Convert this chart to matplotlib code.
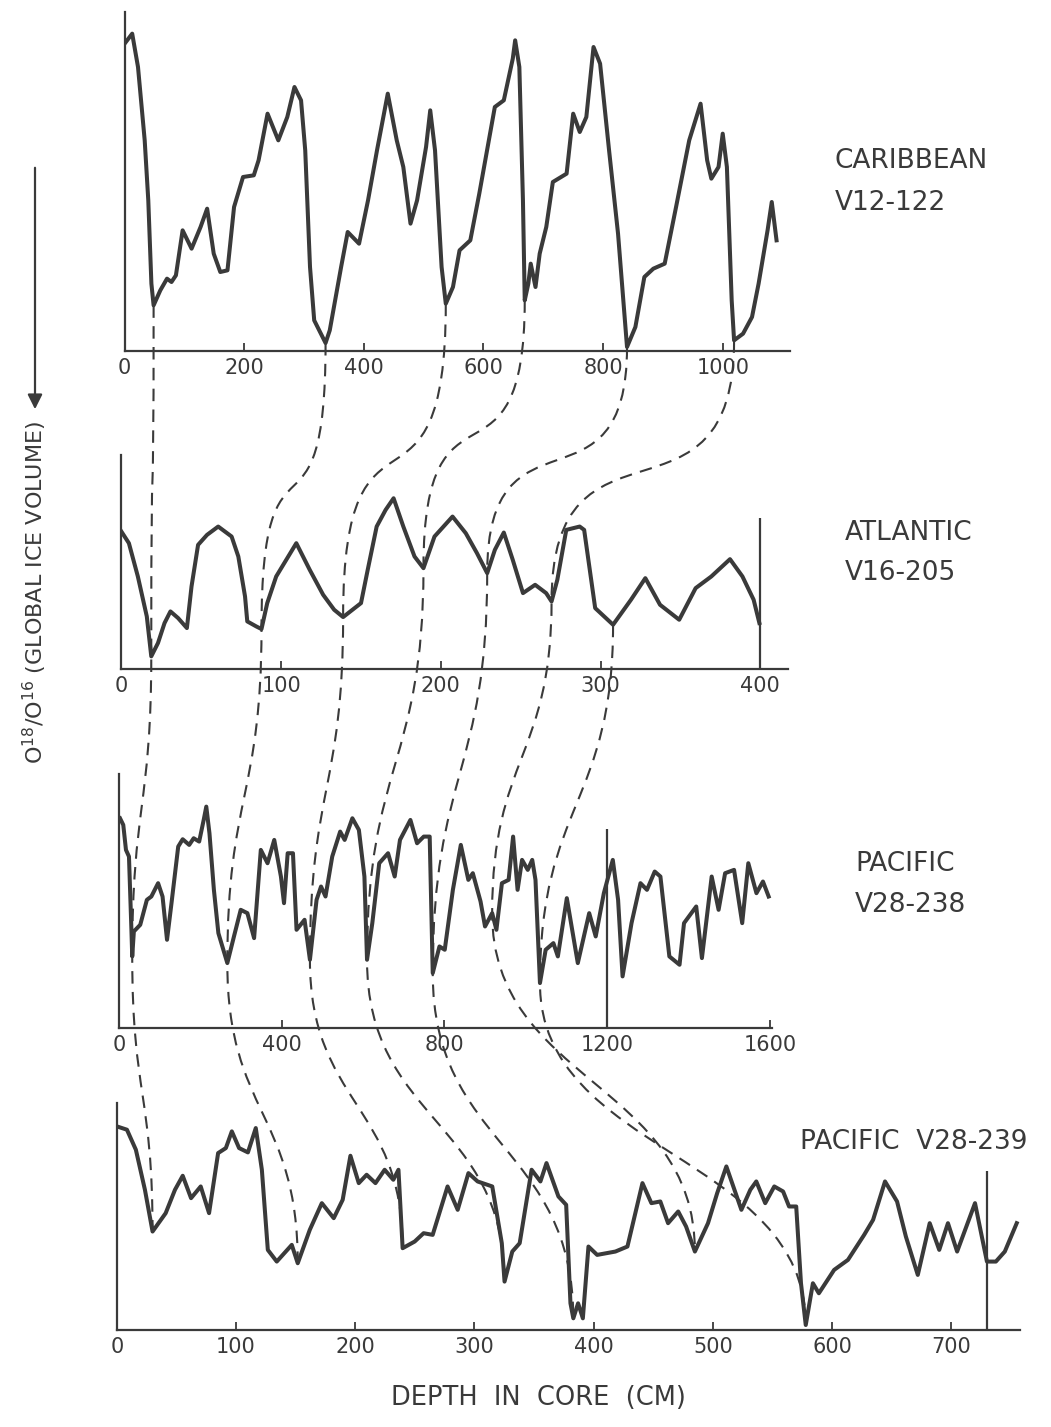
import numpy as np
import matplotlib
matplotlib.use("Agg")
import matplotlib.pyplot as plt
from matplotlib.path import Path
from matplotlib.patches import PathPatch, FancyArrowPatch

plt.rcParams['font.family'] = ['DejaVu Sans']

# ---- core records: depth (cm) and relative O18/O16 value ----
car_depth = [0, 12.7, 22.4, 33.6, 39.6, 44.8, 48.5, 59.7, 70.9, 78.4, 85.8, 97, 112, 127, 138, 149,
             160, 172, 183, 198, 216, 224, 239, 257, 272, 284, 295, 302, 310, 317, 336, 343, 362,
             373, 392, 407, 422, 440, 455, 466, 478, 489, 504, 511, 519, 530, 537, 549, 560, 578,
             593, 608, 619, 634, 649, 653, 660, 666, 669, 675, 679, 687, 694, 705, 716, 739, 750,
             761, 772, 784, 795, 810, 825, 840, 854, 869, 884, 903, 922, 944, 963, 974, 981, 993,
             1000, 1007, 1015, 1019, 1034, 1049, 1060, 1075, 1082, 1090]
car_val = [92.2, 95.2, 85.2, 63.2, 45.2, 20.2, 13.7, 18.2, 21.7, 20.7, 22.7, 36.2, 30.7, 37.2, 42.7,
           29.2, 23.7, 24.2, 43.2, 52.2, 52.7, 57.2, 71.2, 63.2, 70.2, 79.2, 75.2, 60.2, 25.2, 9.2,
           2.4, 6.2, 25.2, 35.7, 32.2, 45.2, 60.2, 77.2, 63.2, 55.2, 38.2, 45.2, 61.2, 72.2, 60.2,
           25.2, 14.2, 19.2, 30.2, 33.2, 47.2, 62.2, 73.2, 75.2, 87.7, 93.2, 85.2, 45.2, 15.2, 20.2,
           26.2, 19.2, 29.2, 37.2, 50.7, 53.2, 71.2, 65.7, 70.2, 91.2, 86.2, 60.2, 35.2, 1.2, 7.2,
           22.2, 24.7, 26.2, 43.2, 63.2, 74.2, 57.2, 51.7, 55.2, 65.2, 55.2, 15.2, 3.2, 5.2, 10.2,
           20.2, 36.2, 44.7, 33.2]

atl_depth = [0, 4.7, 10.3, 15.9, 18.7, 22.9, 27, 30.7, 35.5, 41, 43.9, 48, 53.6, 60.6, 69, 73.2,
             77.4, 78.8, 84.4, 87.7, 91.3, 96.9, 109.5, 117.9, 126.3, 133.2, 138.8, 150, 154.2,
             159.8, 165.4, 170.4, 176.5, 183.5, 189.1, 196, 207.3, 215.6, 222.6, 229, 233.8, 239.4,
             245, 251.4, 259, 265.9, 269.3, 272.9, 278.5, 286.9, 289.7, 296.6, 302.2, 307.8, 319,
             328, 337.2, 349.2, 359.5, 369.3, 381, 388.8, 395.8, 399.4]
atl_val = [41.3, 37.8, 27.8, 15.8, 3.8, 7.8, 13.8, 17.3, 15.3, 12.3, 24.8, 37.3, 40.3, 42.8, 39.8,
           33.8, 21.8, 14.3, 12.8, 12.0, 19.8, 27.8, 37.8, 29.8, 22.3, 17.8, 15.6, 19.8, 29.8, 42.8,
           47.8, 51.3, 42.8, 33.8, 30.3, 39.8, 45.8, 40.8, 34.8, 28.8, 35.8, 41.0, 32.8, 22.8, 25.3,
           22.8, 20.3, 26.8, 41.8, 42.8, 41.8, 18.3, 15.8, 13.3, 20.8, 27.3, 19.3, 14.8, 24.3, 27.8,
           33.0, 27.8, 20.8, 13.8]

p238_depth = [3, 11, 17.6, 25, 31, 33, 37, 52.7, 69, 80, 96.6, 107.5, 118.5, 129.5, 146, 157, 173,
              184, 197.5, 208.6, 215, 222.8, 233.7, 244.7, 266.7, 283, 299.6, 316, 332.5, 349,
              365.5, 382, 398.4, 406, 415, 428, 436.8, 456.5, 469.7, 486, 497, 508, 524.5, 544,
              555, 574, 590, 603.6, 610, 623, 640, 661.7, 678, 691, 716.6, 733, 749.5, 764, 771.5,
              788, 801, 821, 840.5, 859, 870, 889, 900, 917.5, 928, 941.5, 958, 969, 980, 991,
              1005, 1016, 1024, 1035, 1049, 1068, 1079, 1101, 1128, 1156, 1172, 1192, 1214, 1227,
              1238, 1260, 1282, 1298, 1317, 1331, 1353, 1378, 1389, 1419, 1433, 1457, 1474, 1490,
              1512, 1532, 1547, 1567, 1583, 1597]
p238_val = [63, 61, 53.5, 51.5, 29.5, 21.5, 29, 31, 38.5, 39.5, 43.5, 39.5, 26.5, 37.5, 54.5, 56.7,
            55, 57, 56, 62.5, 66.5, 58.5, 41.5, 28.5, 19.5, 27.5, 35.5, 34.5, 27, 53.5, 49.5, 56.5,
            45.5, 37.5, 52.5, 52.5, 29.5, 32.5, 20.5, 38.5, 42.5, 39.5, 51.5, 59, 56.5, 63, 59.5,
            45.5, 20.5, 31.5, 49.5, 52.5, 45.5, 56.5, 62.5, 55.5, 57.5, 57.5, 16.5, 24.5, 23.5,
            41.5, 55, 44.5, 46.5, 38, 30.5, 34.5, 29.5, 43.5, 44.5, 57.5, 41.5, 50.5, 47.5, 50.5,
            44.5, 13.5, 23.5, 25.5, 21.5, 39, 19.5, 34.5, 27.5, 40.5, 50.5, 38.5, 15.5, 31.5, 43.5,
            41.5, 47, 45.5, 21.5, 19, 31.5, 36.5, 21, 45.5, 35.5, 46.5, 47.5, 31.5, 49.5, 40.5, 44,
            39.5]

p239_depth = [0, 8.5, 16, 23.6, 30, 41, 48.8, 55.3, 62.3, 70.4, 77.4, 85, 91.5, 96.5, 102.6, 110,
              116.6, 121.7, 126.7, 134.2, 146.8, 151.8, 161.9, 172, 182, 189.5, 196, 203, 209.6,
              217, 224.7, 232, 236.3, 239.8, 249.9, 257.4, 265, 277.5, 286, 295, 302.7, 315, 323,
              325.3, 331.8, 338, 348, 355.4, 360.5, 370.5, 377, 380.6, 383, 387, 391, 395.7, 403,
              418.3, 428.4, 441, 448.5, 456, 462.5, 471, 477.6, 485, 496, 503.7, 511.4, 524, 531.5,
              536.5, 544, 551.6, 559, 564, 570, 574, 578, 584, 589, 601.8, 613.4, 627, 634.5, 644.5,
              654.6, 662, 672, 682, 690, 697.3, 705, 720, 730, 737.5, 745, 755]
p239_val = [61, 60, 54, 42, 29.5, 35, 42, 46.2, 39.5, 43, 35, 53, 54.5, 59.5, 54.5, 53.2, 60.5, 48,
            24, 20.5, 25.5, 20, 30, 38, 33.5, 39, 52.2, 44, 46.5, 44, 48, 45, 48, 24.5, 26.5, 29,
            28.5, 43, 36, 47, 44.5, 43, 26, 14.5, 23.5, 26, 48, 44.5, 50, 40, 37.5, 8, 3.5, 8, 3.5,
            25, 22.5, 23.5, 25, 44, 38, 38.5, 32, 35.5, 31, 23.5, 32, 41, 49, 36, 42, 44.5, 38, 43,
            41.5, 37, 37, 14, 1.5, 14, 11, 18, 21, 28.5, 33, 44.5, 38.5, 28, 16.5, 32, 24, 32, 23.5,
            38, 20.5, 20.5, 23.5, 32]

names = ['CARIBBEAN\nV12-122', 'ATLANTIC\nV16-205', 'PACIFIC\nV28-238', 'PACIFIC  V28-239']
xticks = [[0, 200, 400, 600, 800, 1000],
          [0, 100, 200, 300, 400],
          [0, 400, 800, 1200, 1600],
          [0, 100, 200, 300, 400, 500, 600, 700]]
xlims = [(0, 1112), (0, 417), (0, 1604), (0, 758)]
ylims = [(0, 101.7), (0, 64.3), (0, 76.3), (0, 68)]
marker_depth = [None, 400, 1200, 730]
marker_top = [None, 45.3, 59.8, 47.5]

# correlated levels (depth in each core), one entry per dashed tie line
tie_car = [48.5, 336, 537, 669, 840, 1019, None]
tie_atl = [18.7, 87.7, 138.8, 189.1, 229, 269.3, 307.8]
tie_p238 = [33, 266.7, 469.7, 610, 771.5, 917.5, 1035]
tie_p239 = [30, 151.8, 239.8, 325.3, 383, 485, 578]
# how sharply each gap's tie lines bend (1 = flat middle)
bend = [0.78, 0.5, 0.5]

depths = [car_depth, atl_depth, p238_depth, p239_depth]
vals = [car_val, atl_val, p238_val, p239_val]
ties = [tie_car, tie_atl, tie_p238, tie_p239]

W, H = 1051, 1427
fig = plt.figure(figsize=(W / 100, H / 100), dpi=100)

# axes boxes in pixels: left, right, top, bottom
boxes = [(124.6, 789.7, 12, 351), (121.4, 787.5, 455, 669),
         (118.8, 771.5, 774, 1028), (116.8, 1020.3, 1103, 1330)]
label_pos = [(835, 182), (845, 553), (855, 884), (800, 1142)]

ink = '#3a3a3a'
axes = []
for i in range(4):
    l, r, t, b = boxes[i]
    ax = fig.add_axes([l / W, 1 - b / H, (r - l) / W, (b - t) / H])
    ax.plot(depths[i], vals[i], color=ink, lw=2.9, solid_joinstyle='round', zorder=3)
    if marker_depth[i] is not None:
        ax.vlines(marker_depth[i], 0, marker_top[i], color=ink, lw=1.6)
    ax.set_xlim(*xlims[i])
    ax.set_ylim(*ylims[i])
    ax.set_xticks(xticks[i])
    ax.set_yticks([])
    ax.tick_params(axis='x', direction='in', length=6, width=1.3, colors=ink,
                   labelsize=15, pad=5)
    for s in ['top', 'right']:
        ax.spines[s].set_visible(False)
    for s in ['left', 'bottom']:
        ax.spines[s].set_color(ink)
        ax.spines[s].set_linewidth(1.6)
    ax.patch.set_alpha(0)
    lx, ly = label_pos[i]
    fig.text(lx / W, 1 - ly / H, names[i], fontsize=19, color=ink, ha='left', va='center',
             linespacing=1.75)
    axes.append(ax)

# dashed correlation lines between the cores
to_fig = fig.transFigure.inverted()
for k in range(len(tie_atl)):
    pts = []
    gaps = []
    for i in range(4):
        d = ties[i][k]
        if d is None:
            continue
        v = np.interp(d, depths[i], vals[i])
        pts.append(to_fig.transform(axes[i].transData.transform((d, v))))
        gaps.append(i)
    verts = [pts[0]]
    codes = [Path.MOVETO]
    for j in range(len(pts) - 1):
        p, q = pts[j], pts[j + 1]
        c = bend[gaps[j]]
        dy = p[1] - q[1]
        verts += [(p[0], p[1] - c * dy), (q[0], q[1] + c * dy), tuple(q)]
        codes += [Path.CURVE4] * 3
    patch = PathPatch(Path(verts, codes), transform=fig.transFigure, fill=False,
                      edgecolor=ink, lw=1.5, linestyle=(0, (6, 4)), zorder=2)
    fig.add_artist(patch)

fig.text(35 / W, 1 - 592 / H, r'O$^{18}$/O$^{16}$ (GLOBAL ICE VOLUME)', rotation=90,
         fontsize=16, color=ink, ha='center', va='center')
fig.add_artist(FancyArrowPatch((35 / W, 1 - 165 / H), (35 / W, 1 - 412 / H),
                               transform=fig.transFigure, arrowstyle='-|>',
                               mutation_scale=22, lw=1.6, color=ink))
fig.text(538 / W, 1 - 1398 / H, 'DEPTH  IN  CORE  (CM)', fontsize=18.5, color=ink,
         ha='center', va='center')

fig.savefig('out.png', dpi=100)
